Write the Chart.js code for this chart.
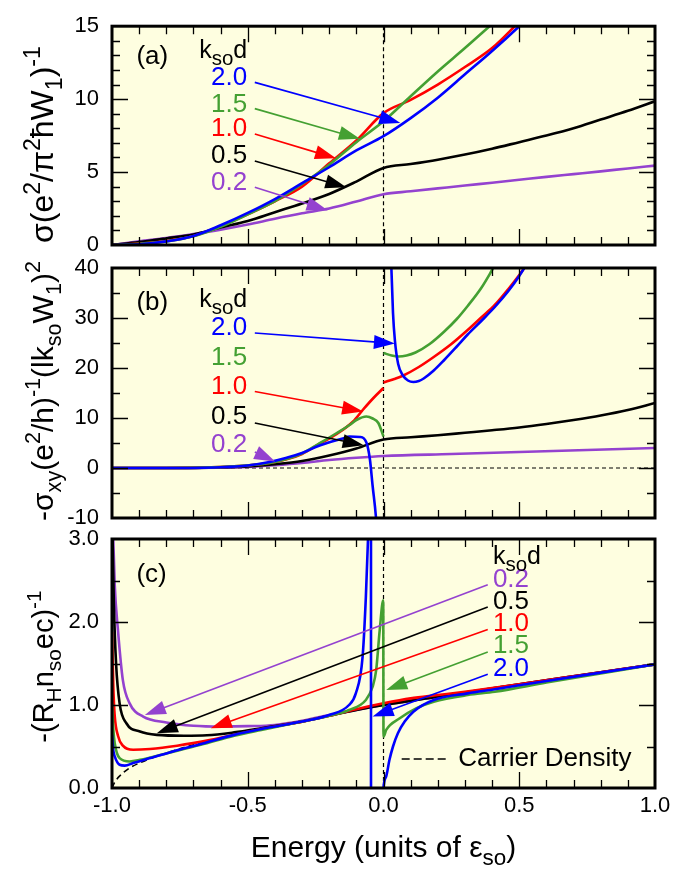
<!DOCTYPE html>
<html>
<head>
<meta charset="utf-8">
<title>Conductivity, Hall conductivity and Hall coefficient vs energy</title>
<script src="https://cdn.jsdelivr.net/npm/chart.js@4.4.1/dist/chart.umd.min.js"></script>
<style>
  html, body { margin: 0; padding: 0; background: #ffffff; }
  #wrap { position: relative; width: 697px; height: 869px; }
  #wrap canvas { position: absolute; left: 0; top: 0; }
</style>
</head>
<body>
<div id="wrap">
  <canvas id="panelA" width="697" height="869"></canvas>
  <canvas id="panelB" width="697" height="869"></canvas>
  <canvas id="panelC" width="697" height="869"></canvas>
</div>
<script>
// ---- data ----
const ksoLabels = ['0.2', '0.5', '1.0', '1.5', '2.0'];
const xTickLabels = ['-1.0', '-0.5', '0.0', '0.5', '1.0'];

// panel (a): sigma vs energy, one shared energy grid
const energyA = [-1, -0.9, -0.8, -0.7, -0.6, -0.5, -0.4, -0.3, -0.2, -0.1, 0, 0.1, 0.2, 0.3, 0.4, 0.5, 0.6, 0.7, 0.8, 0.9, 1];
const sigmaA02 = [0, 0.25, 0.48, 0.75, 1.05, 1.4, 1.8, 2.17, 2.5, 2.98, 3.48, 3.68, 3.88, 4.08, 4.27, 4.47, 4.67, 4.86, 5.05, 5.25, 5.44];
const sigmaA05 = [0, 0.2, 0.45, 0.72, 1.2, 1.65, 2.25, 2.85, 3.5, 4.35, 5.28, 5.55, 5.85, 6.2, 6.6, 7.05, 7.5, 8.0, 8.6, 9.2, 9.85];
const sigmaA10 = [0, 0.1, 0.28, 0.62, 1.3, 2.1, 3.0, 4.0, 5.6, 7.17, 9.04, 9.95, 11.0, 12.2, 13.5, 15.3, null, null, null, null, null];
const sigmaA15 = [0, 0.08, 0.25, 0.6, 1.25, 2.1, 3.0, 4.18, 5.5, 7.05, 8.48, 10.2, 11.9, 13.5, 15.15, null, null, null, null, null, null];
const sigmaA20 = [0, 0.05, 0.25, 0.62, 1.35, 2.2, 3.15, 4.24, 5.33, 6.48, 7.46, 8.7, 10.1, 11.7, 13.3, 15.0, 16.8, null, null, null, null];

// panel (b): -sigma_xy vs energy
const energyB02 = [-1, -0.8, -0.6, -0.5, -0.4, -0.3, -0.2, -0.1, 0, 0.25, 0.5, 0.75, 1];
const sxyB02 = [0, 0, 0.05, 0.2, 0.55, 1.0, 1.6, 2.05, 2.4, 2.8, 3.2, 3.6, 4.0];
const energyB05 = [-1, -0.8, -0.6, -0.5, -0.4, -0.3, -0.2, -0.1, 0, 0.1, 0.2, 0.3, 0.4, 0.5, 0.6, 0.7, 0.8, 0.9, 1];
const sxyB05 = [0, 0, 0.1, 0.3, 0.75, 1.4, 2.5, 3.9, 5.7, 6.15, 6.55, 7.05, 7.55, 8.1, 8.8, 9.6, 10.5, 11.6, 13.0];
const energyB10 = [-1, -0.8, -0.55, -0.42, -0.36, -0.3, -0.24, -0.175, -0.112, -0.075, -0.037, 0, 0, 0, 0.04, 0.073, 0.13, 0.185, 0.25, 0.31, 0.36, 0.41, 0.46, 0.5, 0.55];
const sxyB10 = [0, 0, 0.33, 1.0, 1.7, 2.8, 4.7, 6.7, 9.3, 11.7, 14, 16, null, 17.1, 17.8, 18.5, 20.2, 22.2, 24.8, 27.6, 30.1, 32.6, 35.8, 38.6, 42.4];
const energyB15 = [-1, -0.8, -0.55, -0.42, -0.36, -0.3, -0.24, -0.175, -0.125, -0.1, -0.063, -0.04, -0.019, 0, 0, 0, 0.03, 0.056, 0.085, 0.118, 0.17, 0.222, 0.27, 0.31, 0.36, 0.4, 0.42];
const sxyB15 = [0, 0, 0.33, 1.0, 1.75, 2.9, 4.8, 6.9, 8.6, 9.6, 10.3, 9.9, 9.0, 6.3, null, 23.0, 22.5, 22.3, 22.5, 23.1, 24.8, 27.2, 29.8, 32.4, 36.0, 39.6, 41.5];
const energyB20 = [-1, -0.8, -0.6, -0.5, -0.42, -0.36, -0.3, -0.24, -0.19, -0.15, -0.125, -0.087, -0.063, -0.05, -0.04, -0.028, -0.024, 0, 0.026, 0.029, 0.035, 0.042, 0.054, 0.073, 0.09, 0.11, 0.13, 0.148, 0.185, 0.222, 0.27, 0.31, 0.36, 0.41, 0.46, 0.5, 0.535];
const sxyB20 = [0, 0, 0.15, 0.5, 1.2, 2.0, 3.0, 4.4, 5.3, 5.9, 6.3, 6.2, 5.1, 1.7, -3.6, -9.7, -13, null, 46, 40, 31, 25.5, 20.8, 18.4, 17.5, 17.2, 17.4, 17.9, 19.5, 21.5, 24.3, 26.7, 29.4, 32.2, 35.4, 38.4, 41.5];

// panel (c): -(R_H n_so e c)^-1 vs energy
const energyCn = [-1, -0.99, -0.97, -0.94, -0.9, -0.8, -0.7, -0.6, -0.5, -0.4, -0.3, -0.2, -0.1, 0, 0.25, 0.5, 0.75, 1];
const carrierC = [0, 0.07, 0.15, 0.23, 0.3, 0.42, 0.52, 0.6, 0.67, 0.74, 0.8, 0.87, 0.94, 1.0, 1.12, 1.25, 1.37, 1.49];
const energyC02 = [-0.997, -0.99, -0.978, -0.96, -0.935, -0.885, -0.8, -0.7, -0.6, -0.5, -0.4, -0.3, -0.2, -0.1, 0, 0.2, 0.5, 0.75, 1];
const hallC02 = [3.2, 2.45, 1.9, 1.3, 1.02, 0.86, 0.79, 0.75, 0.74, 0.745, 0.76, 0.81, 0.88, 0.94, 1.0, 1.1, 1.25, 1.37, 1.49];
const energyC05 = [-0.999, -0.993, -0.985, -0.972, -0.947, -0.897, -0.835, -0.735, -0.65, -0.55, -0.45, -0.3, -0.2, -0.1, 0, 0.2, 0.5, 0.75, 1];
const hallC05 = [3.2, 2.2, 1.5, 1.02, 0.78, 0.68, 0.64, 0.63, 0.635, 0.67, 0.72, 0.8, 0.87, 0.94, 1.0, 1.1, 1.25, 1.37, 1.49];
const energyC10 = [-1, -0.995, -0.99, -0.978, -0.96, -0.922, -0.86, -0.76, -0.636, -0.55, -0.45, -0.3, -0.2, -0.1, 0, 0.1, 0.2, 0.3, 0.5, 0.75, 1];
const hallC10 = [1.88, 1.2, 0.87, 0.63, 0.51, 0.46, 0.47, 0.51, 0.58, 0.64, 0.71, 0.8, 0.87, 0.95, 1.02, 1.08, 1.12, 1.16, 1.25, 1.37, 1.49];
const energyC15 = [-1, -0.995, -0.99, -0.972, -0.935, -0.897, -0.797, -0.673, -0.55, -0.45, -0.3, -0.2, -0.127, -0.065, -0.04, -0.027, -0.014, -0.001, 0, 0.01, 0.06, 0.12, 0.185, 0.31, 0.41, 0.6, 0.8, 1];
const hallC15 = [1.02, 0.7, 0.54, 0.36, 0.32, 0.34, 0.42, 0.52, 0.63, 0.7, 0.8, 0.87, 0.94, 1.06, 1.22, 1.42, 1.9, 2.26, 0.62, 0.7, 0.84, 0.96, 1.04, 1.12, 1.16, 1.27, 1.38, 1.49];
const energyC20 = [-1, -0.995, -0.99, -0.972, -0.953, -0.922, -0.86, -0.797, -0.673, -0.55, -0.45, -0.3, -0.2, -0.127, -0.102, -0.077, -0.065, -0.057, -0.05, -0.0465, -0.0455, -0.03, -0.01, 0, 0.01, 0.022, 0.035, 0.053, 0.078, 0.11, 0.185, 0.31, 0.41, 0.6, 0.8, 1];
const hallC20 = [0.64, 0.45, 0.38, 0.28, 0.27, 0.3, 0.36, 0.42, 0.53, 0.64, 0.71, 0.8, 0.88, 1.0, 1.14, 1.58, 2.3, 3.0, 5, 15, -15, -3, -1, 0, 0.14, 0.34, 0.5, 0.66, 0.8, 0.92, 1.06, 1.14, 1.19, 1.29, 1.39, 1.49];

// ---- styles / layout ----
const FONT = '"Liberation Sans", Arial, Helvetica, sans-serif';
const W = 697, H = 869;
const plotLeft = 112, plotRight = 655;
const ksoColors = ['#9442cf', '#000000', '#ff0000', '#44a032', '#0000ff'];
const bgColor = '#fefee0';

function pts(xs, ys) {
    return xs.map(function (x, i) { return { x: x, y: ys[i] }; });
}

function curve(xs, ys, color, dash, width) {
    return {
        data: pts(xs, ys),
        borderColor: color,
        borderWidth: width || 2.6,
        borderDash: dash || [],
        pointRadius: 0,
        fill: false,
        spanGaps: false,
        cubicInterpolationMode: 'monotone'
    };
}

// text with sub/superscripts: parts = [[text, 0 | 1 (sup) | -1 (sub)], ...]
function richWidth(ctx, parts, size, small) {
    let w = 0;
    parts.forEach(function (p) {
        ctx.font = (p[1] ? size * small : size) + 'px ' + FONT;
        w += ctx.measureText(p[0]).width;
    });
    return w;
}

function richDraw(ctx, parts, x, y, size, small, align) {
    const w = richWidth(ctx, parts, size, small);
    let cx = align === 'center' ? x - w / 2 : (align === 'right' ? x - w : x);
    ctx.textAlign = 'left';
    ctx.textBaseline = 'alphabetic';
    parts.forEach(function (p) {
        ctx.font = (p[1] ? size * small : size) + 'px ' + FONT;
        const dy = p[1] === 1 ? -size * 0.42 : (p[1] === -1 ? size * 0.27 : 0);
        ctx.fillText(p[0], cx, y + dy);
        cx += ctx.measureText(p[0]).width;
    });
}

function drawArrow(ctx, x1, y1, x2, y2, color) {
    const ang = Math.atan2(y2 - y1, x2 - x1);
    const L = 21, hw = 7;
    const c = Math.cos(ang), s = Math.sin(ang);
    ctx.strokeStyle = color;
    ctx.fillStyle = color;
    ctx.lineWidth = 1.6;
    ctx.setLineDash([]);
    ctx.beginPath();
    ctx.moveTo(x1, y1);
    ctx.lineTo(x2 - L * 0.7 * c, y2 - L * 0.7 * s);
    ctx.stroke();
    ctx.beginPath();
    ctx.moveTo(x2, y2);
    ctx.lineTo(x2 - L * c + hw * s, y2 - L * s - hw * c);
    ctx.lineTo(x2 - L * c - hw * s, y2 - L * s + hw * c);
    ctx.closePath();
    ctx.fill();
}

const panelPlugin = {
    id: 'panel',
    beforeDraw: function (chart, args, o) {
        const a = chart.chartArea, ctx = chart.ctx;
        ctx.save();
        ctx.fillStyle = bgColor;
        ctx.fillRect(a.left, a.top, a.right - a.left, a.bottom - a.top);
        ctx.restore();
    },
    beforeDatasetsDraw: function (chart, args, o) {
        const a = chart.chartArea, ctx = chart.ctx;
        const xs = chart.scales.x, ys = chart.scales.y;
        ctx.save();
        ctx.strokeStyle = '#000';
        ctx.lineWidth = 1.2;
        ctx.setLineDash([4, 3]);
        const x0 = xs.getPixelForValue(0);
        ctx.beginPath();
        ctx.moveTo(x0, a.top);
        ctx.lineTo(x0, a.bottom);
        ctx.stroke();
        if (o.zeroLine) {
            const y0 = ys.getPixelForValue(0);
            ctx.beginPath();
            ctx.moveTo(a.left, y0);
            ctx.lineTo(a.right, y0);
            ctx.stroke();
        }
        ctx.restore();
    },
    afterDatasetsDraw: function (chart, args, o) {
        const ctx = chart.ctx;
        const xs = chart.scales.x, ys = chart.scales.y;
        const px = function (v) { return xs.getPixelForValue(v); };
        const py = function (v) { return ys.getPixelForValue(v); };
        ctx.save();
        // arrows
        o.arrows.forEach(function (ar) {
            drawArrow(ctx, px(ar.from[0]), py(ar.from[1]), px(ar.to[0]), py(ar.to[1]), ksoColors[ar.c]);
        });
        // k_so d values
        ctx.textBaseline = 'middle';
        ctx.textAlign = o.labelAlign;
        ctx.font = '26px ' + FONT;
        o.labels.forEach(function (lb) {
            ctx.fillStyle = ksoColors[lb.c];
            ctx.fillText(ksoLabels[lb.c], px(o.labelX), py(lb.y));
        });
        // header k_so d
        ctx.fillStyle = '#000';
        richDraw(ctx, [['k', 0], ['so', -1], ['d', 0]], px(o.header[0]), py(o.header[1]), 25, 0.82, 'left');
        // panel tag
        ctx.font = '26px ' + FONT;
        ctx.textAlign = 'left';
        ctx.textBaseline = 'middle';
        ctx.fillText(o.tag[0], px(o.tag[1]), py(o.tag[2]));
        // carrier density key
        if (o.carrierKey) {
            const k = o.carrierKey;
            ctx.strokeStyle = '#000';
            ctx.lineWidth = 1.6;
            ctx.setLineDash([8, 4]);
            ctx.beginPath();
            ctx.moveTo(px(k.x1), py(k.y));
            ctx.lineTo(px(k.x2), py(k.y));
            ctx.stroke();
            ctx.setLineDash([]);
            ctx.font = '26px ' + FONT;
            ctx.fillText('Carrier Density', px(k.tx), py(k.y));
        }
        ctx.restore();
    },
    afterDraw: function (chart, args, o) {
        const a = chart.chartArea, ctx = chart.ctx;
        const xs = chart.scales.x, ys = chart.scales.y;
        ctx.save();
        ctx.strokeStyle = '#000';
        ctx.setLineDash([]);
        ctx.lineWidth = 1.3;
        // x ticks (major 0.5, minor 0.1), inward on top and bottom
        for (let i = 1; i < 20; i++) {
            const v = -1 + i * 0.1;
            const len = (i % 5 === 0) ? 16 : 8;
            const p = Math.round(xs.getPixelForValue(v)) + 0.5;
            ctx.beginPath();
            ctx.moveTo(p, a.bottom); ctx.lineTo(p, a.bottom - len);
            ctx.moveTo(p, a.top); ctx.lineTo(p, a.top + len);
            ctx.stroke();
        }
        // y ticks, inward on left and right
        const n = Math.round((ys.max - ys.min) / o.yMinor);
        const every = Math.round(o.yMajor / o.yMinor);
        for (let i = 1; i < n; i++) {
            const v = ys.min + i * o.yMinor;
            const major = Math.round((v - o.yMajorBase) / o.yMinor) % every === 0;
            const len = major ? 16 : 8;
            const p = Math.round(ys.getPixelForValue(v)) + 0.5;
            ctx.beginPath();
            ctx.moveTo(a.left, p); ctx.lineTo(a.left + len, p);
            ctx.moveTo(a.right, p); ctx.lineTo(a.right - len, p);
            ctx.stroke();
        }
        // frame
        ctx.lineWidth = 3;
        ctx.strokeRect(a.left, a.top, a.right - a.left, a.bottom - a.top);
        // y title (rotated)
        ctx.fillStyle = '#000';
        ctx.save();
        ctx.translate(o.titleX, (a.top + a.bottom) / 2 + o.titleShift);
        ctx.rotate(-Math.PI / 2);
        richDraw(ctx, o.title, 0, 0, o.titleSize, 0.72, 'center');
        ctx.restore();
        // x title
        if (o.xTitle) {
            richDraw(ctx, o.xTitle, (a.left + a.right) / 2, 857, 30, 0.75, 'center');
        }
        ctx.restore();
    }
};

function makePanel(canvasId, cfg) {
    const el = document.getElementById(canvasId);
    return new Chart(el, {
        type: 'line',
        data: { datasets: cfg.datasets },
        options: {
            responsive: false,
            animation: false,
            devicePixelRatio: 1,
            events: [],
            layout: { padding: { top: cfg.top, right: W - plotRight, bottom: 0, left: 0 } },
            elements: { line: { capBezierPoints: false, borderJoinStyle: 'round' } },
            scales: {
                x: {
                    type: 'linear', min: -1, max: 1,
                    grid: { display: false, drawTicks: false },
                    border: { display: false },
                    ticks: {
                        display: cfg.showX, stepSize: 0.5, padding: 5, color: '#000',
                        autoSkip: false, maxRotation: 0,
                        font: { family: FONT, size: 22 },
                        callback: function (v) { return xTickLabels[Math.round((v + 1) * 2)]; }
                    },
                    afterFit: function (s) { s.height = H - cfg.bottom; }
                },
                y: {
                    type: 'linear', min: cfg.yMin, max: cfg.yMax,
                    grid: { display: false, drawTicks: false },
                    border: { display: false },
                    ticks: {
                        stepSize: cfg.yStep, padding: 13, color: '#000',
                        font: { family: FONT, size: 22 },
                        callback: cfg.yFmt
                    },
                    afterFit: function (s) { s.width = plotLeft; }
                }
            },
            plugins: {
                legend: { display: false },
                tooltip: { enabled: false },
                panel: cfg.deco
            }
        },
        plugins: [panelPlugin]
    });
}

// ---- panel (a) ----
makePanel('panelA', {
    top: 15, bottom: 245, yMin: 0, yMax: 15, yStep: 5, showX: false,
    yFmt: function (v) { return String(v); },
    datasets: [
        curve(energyA, sigmaA20, ksoColors[4]),
        curve(energyA, sigmaA15, ksoColors[3]),
        curve(energyA, sigmaA10, ksoColors[2]),
        curve(energyA, sigmaA05, ksoColors[1]),
        curve(energyA, sigmaA02, ksoColors[0])
    ],
    deco: {
        yMinor: 1, yMajor: 5, yMajorBase: 0,
        titleX: 53, titleShift: 9, titleSize: 32,
        title: [['σ(e', 0], ['2', 1], ['/π', 0], ['2', 1], ['ħW', 0], ['1', -1], [')', 0], ['-1', 1]],
        tag: ['(a)', -0.91, 12.87],
        header: [-0.679, 12.83],
        labelAlign: 'right', labelX: -0.502,
        labels: [{ c: 4, y: 11.46 }, { c: 3, y: 9.63 }, { c: 2, y: 7.94 }, { c: 1, y: 6.09 }, { c: 0, y: 4.24 }],
        arrows: [
            { from: [-0.474, 11.15], to: [0.062, 8.37], c: 4 },
            { from: [-0.474, 9.35], to: [-0.087, 7.28], c: 3 },
            { from: [-0.474, 7.61], to: [-0.175, 5.94], c: 2 },
            { from: [-0.474, 5.76], to: [-0.137, 3.96], c: 1 },
            { from: [-0.474, 3.96], to: [-0.206, 2.39], c: 0 }
        ]
    }
});

// ---- panel (b) ----
makePanel('panelB', {
    top: 268, bottom: 518, yMin: -10, yMax: 40, yStep: 10, showX: false,
    yFmt: function (v) { return String(v); },
    datasets: [
        curve(energyB20, sxyB20, ksoColors[4]),
        curve(energyB15, sxyB15, ksoColors[3]),
        curve(energyB10, sxyB10, ksoColors[2]),
        curve(energyB05, sxyB05, ksoColors[1]),
        curve(energyB02, sxyB02, ksoColors[0])
    ],
    deco: {
        yMinor: 5, yMajor: 10, yMajorBase: 0, zeroLine: true,
        titleX: 53, titleShift: -2, titleSize: 30,
        title: [['-σ', 0], ['xy', -1], ['(e', 0], ['2', 1], ['/h)', 0], ['-1', 1], ['(lk', 0], ['so', -1], ['W', 0], ['1', -1], [')', 0], ['2', 1]],
        tag: ['(b)', -0.91, 33.1],
        header: [-0.679, 32.2],
        labelAlign: 'right', labelX: -0.502,
        labels: [{ c: 4, y: 28 }, { c: 3, y: 22 }, { c: 2, y: 16.3 }, { c: 1, y: 10.3 }, { c: 0, y: 4.66 }],
        arrows: [
            { from: [-0.474, 27.0], to: [0.042, 24.9], c: 4 },
            { from: [-0.474, 15.3], to: [-0.075, 11.3], c: 2 },
            { from: [-0.474, 9.0], to: [-0.073, 4.55], c: 1 },
            { from: [-0.474, 3.2], to: [-0.399, 1.32], c: 0 }
        ]
    }
});

// ---- panel (c) ----
makePanel('panelC', {
    top: 539, bottom: 788, yMin: 0, yMax: 3, yStep: 1, showX: true,
    yFmt: function (v) { return v.toFixed(1); },
    datasets: [
        curve(energyC20, hallC20, ksoColors[4]),
        curve(energyC15, hallC15, ksoColors[3]),
        curve(energyC10, hallC10, ksoColors[2]),
        curve(energyC05, hallC05, ksoColors[1]),
        curve(energyC02, hallC02, ksoColors[0]),
        curve(energyCn, carrierC, '#000000', [6, 4], 1.6)
    ],
    deco: {
        yMinor: 0.5, yMajor: 1, yMajorBase: 0,
        titleX: 53, titleShift: 3, titleSize: 29,
        title: [['-(R', 0], ['H', -1], ['n', 0], ['so', -1], ['ec)', 0], ['-1', 1]],
        xTitle: [['Energy (units of ε', 0], ['so', -1], [')', 0]],
        tag: ['(c)', -0.91, 2.57],
        header: [0.403, 2.7],
        labelAlign: 'left', labelX: 0.403,
        labels: [{ c: 0, y: 2.51 }, { c: 1, y: 2.245 }, { c: 2, y: 1.98 }, { c: 3, y: 1.71 }, { c: 4, y: 1.44 }],
        arrows: [
            { from: [0.384, 2.45], to: [-0.879, 0.88], c: 0 },
            { from: [0.384, 2.18], to: [-0.835, 0.66], c: 1 },
            { from: [0.384, 1.91], to: [-0.636, 0.72], c: 2 },
            { from: [0.384, 1.64], to: [0.01, 1.18], c: 3 },
            { from: [0.384, 1.37], to: [-0.04, 0.86], c: 4 }
        ],
        carrierKey: { x1: 0.067, x2: 0.235, tx: 0.275, y: 0.35 }
    }
});
</script>
</body>
</html>
